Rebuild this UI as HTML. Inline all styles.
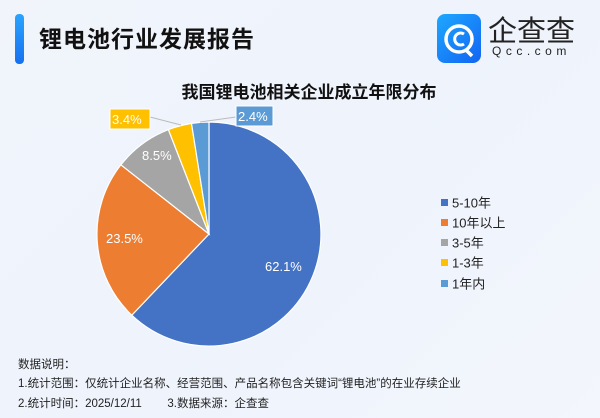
<!DOCTYPE html>
<html><head><meta charset="utf-8"><style>
body{margin:0;width:600px;height:418px;overflow:hidden;background:linear-gradient(135deg,#f1f4fb,#eef3fc 50%,#f3f6fc);font-family:"Liberation Sans","Noto Sans CJK SC",sans-serif;position:relative}
.t{position:absolute;white-space:nowrap}
</style></head><body>
<div class="t" style="left:15px;top:14px;width:9px;height:50px;border-radius:4px;background:linear-gradient(#2aa4ff,#1670f0)"></div>
<div class="t" style="left:39px;top:20px;font-size:23px;font-weight:bold;color:#111;letter-spacing:1px">锂电池行业发展报告</div>
<div class="t" style="left:437px;top:14px;width:44px;height:49px;border-radius:8px;background:linear-gradient(135deg,#1ea8ff,#1264f2)"></div>
<svg class="t" style="left:437px;top:14px" width="44" height="49"><circle cx="22" cy="25" r="13" fill="none" stroke="#fff" stroke-width="3.5"/><path d="M27 20 A6 6 0 1 0 27 30" fill="none" stroke="#fff" stroke-width="3"/><path d="M29 36 L35 42" stroke="#fff" stroke-width="3.5"/></svg>
<div class="t" style="left:488px;top:8px;font-size:29px;color:#222">企查查</div>
<div class="t" style="left:492px;top:44px;font-size:12px;color:#222;letter-spacing:4.5px">Qcc.com</div>
<div class="t" style="left:0;width:600px;text-align:center;top:78px;font-size:17px;font-weight:bold;color:#111;padding-left:18px;box-sizing:border-box">我国锂电池相关企业成立年限分布</div>
<svg class="t" style="left:0;top:0" width="600" height="418">
<g stroke="#fff" stroke-width="1.2">
<path d="M209 234 L209 122 A112 112 0 1 1 131.8 315.2Z" fill="#4472c4"/>
<path d="M209 234 L131.8 315.2 A112 112 0 0 1 120.9 164.8Z" fill="#ed7d31"/>
<path d="M209 234 L120.9 164.8 A112 112 0 0 1 168.4 129.6Z" fill="#a5a5a5"/>
<path d="M209 234 L168.4 129.6 A112 112 0 0 1 191.5 123.4Z" fill="#ffc000"/>
<path d="M209 234 L191.5 123.4 A112 112 0 0 1 209 122Z" fill="#5b9bd5"/>
</g>
<path d="M150 117 L181 125" stroke="#bbb" stroke-width="1" fill="none"/>
<path d="M236 117 L200 122" stroke="#bbb" stroke-width="1" fill="none"/>
<rect x="110" y="109" width="40" height="20" fill="#ffc000" stroke="#fff"/>
<rect x="236" y="106" width="37" height="20" fill="#5b9bd5" stroke="#fff"/>
<g font-size="13" fill="#fff" font-family="Liberation Sans,sans-serif">
<text x="112" y="124">3.4%</text>
<text x="238" y="121">2.4%</text>
<text x="142" y="160">8.5%</text>
<text x="106" y="243">23.5%</text>
<text x="265" y="271">62.1%</text>
</g>
<g font-size="13" fill="#222" font-family="Liberation Sans,Noto Sans CJK SC,sans-serif">
<rect x="441" y="199" width="7" height="7" fill="#4472c4"/><text x="452" y="207.5">5-10年</text>
<rect x="441" y="219" width="7" height="7" fill="#ed7d31"/><text x="452" y="227.5">10年以上</text>
<rect x="441" y="239" width="7" height="7" fill="#a5a5a5"/><text x="452" y="247.5">3-5年</text>
<rect x="441" y="259" width="7" height="7" fill="#ffc000"/><text x="452" y="267.5">1-3年</text>
<rect x="441" y="280" width="7" height="7" fill="#5b9bd5"/><text x="452" y="288.5">1年内</text>
</g>
</svg>
<div class="t" style="left:18px;top:356px;font-size:11.5px;color:#222">数据说明：</div>
<div class="t" style="left:18px;top:375px;font-size:11.5px;color:#222">1.统计范围：仅统计企业名称、经营范围、产品名称包含关键词“锂电池”的在业存续企业</div>
<div class="t" style="left:18px;top:395px;font-size:11.5px;color:#222">2.统计时间：2025/12/11&nbsp;&nbsp;&nbsp;&nbsp;&nbsp;&nbsp;&nbsp;&nbsp;3.数据来源：企查查</div>
</body></html>
